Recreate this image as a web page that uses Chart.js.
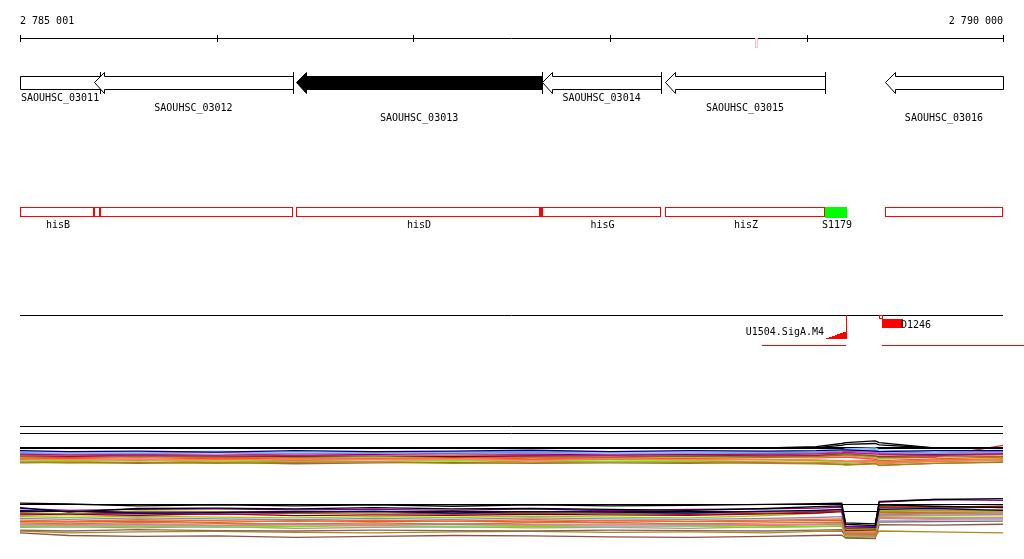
<!DOCTYPE html>
<html>
  <head>
    <title>Locus view</title>
    <script src="https://cdn.jsdelivr.net/npm/chart.js"></script>
    <style>
      body { margin: 0; background: #fff; }
    </style>
  </head>
  <body>
    <canvas id="locus" width="1024" height="559"></canvas>
    <script>
      // genomic window (bp)
      const viewStart = 2785001;
      const viewEnd = 2790000;
      const rulerTicks = [2785001, 2786001, 2787001, 2788001, 2789001, 2790000];
      const markerPos = 2788740;

      // genes, all on minus strand
      const geneNames = ['SAOUHSC_03011', 'SAOUHSC_03012', 'SAOUHSC_03013', 'SAOUHSC_03014', 'SAOUHSC_03015', 'SAOUHSC_03016'];
      const geneStart = [2784400, 2785377, 2786405, 2787656, 2788281, 2789400];
      const geneEnd = [2785408, 2786389, 2787656, 2788261, 2789095, 2790400];
      const selectedGene = 'SAOUHSC_03013';

      // operon / feature track
      const opNames = ['hisB', '', '', 'hisD', '', 'hisG', 'hisZ', 'S1179', ''];
      const opStart = [2784800, 2785377, 2785408, 2786405, 2787645, 2787656, 2788281, 2789095, 2789400];
      const opEnd = [2785377, 2785408, 2786389, 2787645, 2787656, 2788261, 2789095, 2789207, 2790000];
      const opColor = ['red', 'red', 'red', 'red', 'red', 'red', 'red', 'green', 'red'];

      // transcription start sites
      const tssNames = ['U1504.SigA.M4', 'D1246'];
      const tssPos = [2789202, 2789385];
      const tssStrand = [-1, 1];
      const tssPeakEnd = [2789100, 2789492];
      const tssTxEnd = [2788774, 2790200];

      // expression profiles, positions in bp
      const exprPos = [2785001, 2785250, 2785600, 2786000, 2786400, 2786800, 2787200, 2787600, 2788000, 2788400, 2788800, 2789050, 2789180, 2789200, 2789350, 2789370, 2789650, 2790000];

      // upper panel (log2 level)
      const upperGuides = [15.9, 14.3];
      const upperBase = 11;
      const upBlack1 = [11, 11, 11, 11, 11, 11, 11, 11, 11, 11, 11, 11.3, 12.0, 12.2, 12.6, 12.2, 11, 11];
      const upBlack2 = [11, 11, 11, 11, 11, 11, 11, 11, 11, 11, 11, 11.1, 11.6, 11.8, 12.0, 11.7, 11, 11];
      const upNavy = [10.4, 10.2, 10.3, 10.1, 10.4, 10.2, 10.3, 10.5, 10.2, 10.4, 10.3, 10.4, 10.6, 10.6, 10.3, 10.2, 10.4, 10.4];
      const upLightBlue = [10.2, 10.0, 10.1, 10.3, 10.0, 10.2, 10.1, 10.3, 10.0, 10.1, 10.2, 10.3, 10.6, 10.8, 11.0, 10.6, 10.1, 10.5];
      const upSteel = [10.0, 10.1, 9.9, 10.1, 9.9, 10.0, 10.1, 9.9, 10.1, 10.0, 9.9, 10.1, 10.4, 10.5, 10.6, 10.2, 9.9, 10.3];
      const upPlum = [9.9, 9.7, 9.8, 9.6, 9.9, 9.8, 9.6, 9.9, 9.7, 9.8, 9.9, 10.0, 10.3, 10.4, 10.2, 9.9, 9.8, 10.0];
      const upPurple = [9.8, 9.6, 9.7, 9.5, 9.8, 9.6, 9.9, 9.7, 9.5, 9.6, 9.8, 9.9, 10.2, 10.3, 10.1, 9.8, 9.6, 9.8];
      const upViolet = [9.6, 9.5, 9.4, 9.6, 9.3, 9.5, 9.6, 9.4, 9.5, 9.7, 9.5, 9.7, 9.9, 10.0, 9.7, 9.6, 9.4, 9.7];
      const upRosy = [9.5, 9.4, 9.6, 9.4, 9.5, 9.3, 9.5, 9.6, 9.4, 9.5, 9.6, 9.6, 9.9, 10.0, 9.5, 9.3, 9.6, 9.7];
      const upMaroon = [9.4, 9.2, 9.5, 9.3, 9.2, 9.4, 9.1, 9.3, 9.5, 9.3, 9.4, 9.4, 9.8, 9.9, 9.4, 9.2, 9.5, 9.6];
      const upOlive = [9.2, 9.3, 9.1, 9.4, 9.0, 9.2, 9.3, 9.1, 9.4, 9.2, 9.0, 9.2, 9.5, 9.6, 9.2, 8.9, 9.3, 9.1];
      const upRed = [9.1, 9.0, 9.2, 9.0, 9.1, 9.2, 9.0, 9.1, 9.0, 9.2, 9.1, 9.2, 9.5, 9.6, 9.2, 9.0, 9.0, 11.6];
      const upYellowGreen = [9.0, 9.1, 9.2, 8.9, 9.1, 8.9, 9.0, 9.2, 8.8, 9.0, 9.1, 9.1, 9.3, 9.4, 8.9, 8.6, 9.1, 9.2];
      const upPink = [8.9, 9.0, 8.8, 9.0, 8.9, 8.8, 9.0, 8.9, 8.8, 9.0, 8.9, 9.0, 9.2, 9.3, 8.8, 8.6, 9.0, 9.2];
      const upOrangeRed = [8.8, 8.7, 8.9, 8.6, 8.8, 8.7, 8.9, 8.6, 8.8, 8.7, 8.9, 8.8, 8.9, 9.0, 8.5, 8.2, 8.6, 9.0];
      const upCoral = [8.6, 8.4, 8.5, 8.3, 8.6, 8.4, 8.5, 8.3, 8.6, 8.4, 8.5, 8.3, 8.1, 8.0, 8.1, 7.7, 8.2, 8.4];
      const upChocolate = [8.5, 8.6, 8.4, 8.6, 8.3, 8.5, 8.6, 8.4, 8.5, 8.6, 8.4, 8.3, 8.2, 8.1, 8.2, 7.8, 8.3, 8.6];
      const upGreen = [8.3, 8.2, 8.4, 8.1, 8.3, 8.4, 8.2, 8.3, 8.1, 8.2, 8.4, 8.1, 7.9, 7.8, 8.2, 7.9, 8.3, 8.5];
      const upTan = [8.1, 8.0, 8.2, 7.9, 8.1, 8.0, 8.2, 7.9, 8.0, 8.1, 7.9, 7.8, 7.7, 7.6, 7.9, 7.5, 8.0, 8.2];
      const upGold = [7.9, 7.7, 7.8, 7.6, 7.8, 7.9, 7.6, 7.7, 7.9, 7.8, 7.6, 7.5, 7.3, 7.2, 7.5, 7.1, 7.6, 7.9];
      const upBrown = [7.7, 7.8, 7.6, 7.8, 7.5, 7.7, 7.8, 7.6, 7.7, 7.6, 7.8, 7.6, 7.4, 7.3, 7.6, 7.2, 7.6, 7.8];

      // lower panel (log2 level)
      const lowerGuides = [12, 10.44];
      const loBlack1 = [12.2, 12.0, 11.6, 11.8, 11.6, 11.8, 11.5, 11.8, 11.6, 11.7, 11.9, 12.1, 12.2, 7.5, 7.2, 12.4, 13.0, 13.2];
      const loBlack2 = [11.2, 10.2, 11.0, 11.1, 10.9, 11.2, 10.9, 11.0, 10.8, 10.6, 11.0, 11.4, 11.6, 7.8, 7.6, 11.8, 11.5, 11.2];
      const loPurple = [11.0, 10.6, 10.8, 10.9, 10.7, 10.8, 10.6, 10.9, 10.5, 10.8, 10.9, 11.1, 11.3, 7.0, 7.0, 12.6, 13.0, 12.8];
      const loNavy = [10.5, 10.4, 10.0, 10.1, 10.2, 10.4, 10.0, 10.3, 10.2, 10.0, 10.4, 10.6, 10.8, 6.9, 6.8, 10.8, 11.0, 10.6];
      const loOlive = [10.1, 9.8, 10.4, 10.3, 10.0, 10.2, 9.9, 10.1, 9.8, 10.0, 10.2, 10.5, 10.7, 6.4, 6.5, 11.6, 11.4, 11.2];
      const loCrimson = [9.9, 9.8, 10.0, 9.7, 9.9, 10.1, 9.8, 9.9, 10.0, 9.7, 9.9, 10.2, 10.4, 6.1, 6.2, 11.2, 11.1, 11.3];
      const loMaroon = [9.6, 9.7, 9.5, 9.8, 9.4, 9.6, 9.5, 9.7, 9.6, 9.5, 9.8, 10.0, 10.3, 6.6, 6.4, 11.4, 11.3, 11.5];
      const loYellowGreen = [9.2, 9.0, 9.3, 9.1, 8.9, 9.2, 9.0, 9.3, 9.1, 8.9, 9.4, 9.9, 10.4, 5.8, 5.9, 10.5, 10.3, 10.4];
      const loSlate = [8.8, 8.6, 8.9, 8.7, 8.5, 8.8, 8.6, 8.9, 8.7, 8.6, 8.8, 9.0, 9.2, 5.7, 5.8, 9.6, 9.8, 9.7];
      const loOrange = [8.4, 8.2, 8.5, 8.3, 8.1, 8.4, 8.2, 8.5, 8.3, 8.2, 8.4, 8.6, 8.7, 5.6, 5.5, 10.6, 10.5, 10.7];
      const loChocolate = [8.1, 8.0, 8.2, 7.9, 8.3, 8.1, 8.2, 8.0, 8.3, 8.1, 8.2, 8.3, 8.4, 5.4, 5.3, 10.2, 10.1, 10.3];
      const loSienna = [7.8, 7.6, 7.9, 7.7, 7.6, 7.8, 7.5, 7.8, 7.9, 7.6, 7.8, 7.9, 8.0, 5.2, 5.1, 9.8, 9.9, 10.0];
      const loTan = [7.5, 7.4, 7.6, 7.3, 7.6, 7.4, 7.5, 7.3, 7.6, 7.5, 7.4, 7.6, 7.7, 5.0, 5.0, 9.5, 9.4, 9.6];
      const loPink = [7.4, 7.3, 7.5, 7.2, 7.4, 7.3, 7.6, 7.4, 7.3, 7.5, 7.2, 7.4, 7.6, 5.5, 5.6, 9.0, 8.8, 8.9];
      const loLightBlue = [7.2, 7.1, 7.3, 7.0, 7.4, 7.2, 7.1, 7.3, 7.0, 7.2, 7.3, 7.4, 7.5, 5.3, 5.4, 8.3, 8.4, 8.5];
      const loGreen = [7.0, 6.9, 7.1, 6.8, 7.0, 7.2, 6.8, 7.0, 6.9, 7.1, 6.8, 7.0, 7.2, 4.8, 4.9, 9.2, 9.0, 9.1];
      const loRosy = [6.8, 6.9, 6.7, 7.0, 6.6, 6.8, 6.9, 6.7, 6.8, 6.6, 6.9, 7.0, 7.1, 5.1, 5.2, 8.8, 8.6, 8.7];
      const loBrown = [6.2, 6.0, 6.3, 6.1, 6.0, 6.2, 6.1, 6.0, 6.2, 6.1, 6.0, 6.2, 6.3, 4.6, 4.7, 8.0, 8.1, 8.2];
      const loGold = [6.0, 5.6, 5.8, 5.9, 5.7, 5.6, 5.8, 5.9, 5.7, 5.8, 5.6, 5.9, 6.0, 4.9, 4.8, 6.0, 5.8, 5.6];
      const loBrown2 = [5.6, 5.0, 4.8, 4.9, 4.6, 4.8, 5.0, 4.9, 4.7, 4.6, 4.8, 5.0, 5.1, 4.4, 4.3, 7.4, 7.3, 7.5];

      const upperSeries = [
        [upBlack1, '#000000'], [upBlack2, '#000000'], [upNavy, '#000080'], [upLightBlue, '#88ccff'],
        [upSteel, '#6699cc'], [upPlum, '#cc88cc'], [upPurple, '#800080'], [upViolet, '#c71585'],
        [upRosy, '#cc9999'], [upMaroon, '#800000'], [upOlive, '#808000'], [upRed, '#cc3333'],
        [upYellowGreen, '#99cc33'], [upPink, '#ff6699'], [upOrangeRed, '#ff5030'], [upCoral, '#ff7f50'],
        [upChocolate, '#d2691e'], [upGreen, '#66ff00'], [upTan, '#cc8855'], [upGold, '#aa8800'], [upBrown, '#996655']
      ];
      const lowerSeries = [
        [loBlack1, '#000000'], [loBlack2, '#000000'], [loPurple, '#880088'], [loNavy, '#000066'],
        [loOlive, '#808000'], [loCrimson, '#cc0044'], [loMaroon, '#800000'], [loYellowGreen, '#99cc00'],
        [loSlate, '#8888bb'], [loOrange, '#ff6633'], [loChocolate, '#d2691e'], [loSienna, '#cc7744'],
        [loTan, '#cc9966'], [loPink, '#ff6699'], [loLightBlue, '#88bbee'], [loGreen, '#66ee00'],
        [loRosy, '#cc8888'], [loBrown, '#886655'], [loGold, '#aa8822'], [loBrown2, '#885544']
      ];

      // px per bp so the window lands at 20..1003
      const k = 983 / (viewEnd - viewStart);
      const xMin = viewStart - 20 / k;
      const xMax = xMin + 1024 / k;

      const datasets = [];
      upperSeries.forEach(([vals, col]) => datasets.push({
        data: vals.map((v, i) => ({ x: exprPos[i], y: v })),
        yAxisID: 'yUp', borderColor: col, borderWidth: 1.3, pointRadius: 0, tension: 0
      }));
      lowerSeries.forEach(([vals, col]) => datasets.push({
        data: vals.map((v, i) => ({ x: exprPos[i], y: v })),
        yAxisID: 'yLo', borderColor: col, borderWidth: 1.3, pointRadius: 0, tension: 0
      }));

      const FONT = '10px "DejaVu Sans Mono"';

      const tracks = {
        id: 'tracks',
        beforeDatasetsDraw(chart) {
          const ctx = chart.ctx;
          const x = chart.scales.x, yUp = chart.scales.yUp, yLo = chart.scales.yLo;
          const x0 = x.getPixelForValue(viewStart), x1 = x.getPixelForValue(viewEnd);
          ctx.save();
          ctx.strokeStyle = '#000';
          ctx.lineWidth = 1;
          upperGuides.forEach(v => {
            const y = Math.round(yUp.getPixelForValue(v)) + 0.5;
            ctx.beginPath(); ctx.moveTo(x0, y); ctx.lineTo(x1, y); ctx.stroke();
          });
          lowerGuides.forEach(v => {
            const y = Math.round(yLo.getPixelForValue(v)) + 0.5;
            ctx.beginPath(); ctx.moveTo(x0, y); ctx.lineTo(x1, y); ctx.stroke();
          });
          ctx.lineWidth = 2;
          const yb = Math.round(yUp.getPixelForValue(upperBase));
          ctx.beginPath(); ctx.moveTo(x0, yb); ctx.lineTo(x1, yb); ctx.stroke();
          ctx.restore();
        },
        afterDraw(chart) {
          const ctx = chart.ctx;
          const x = chart.scales.x;
          const px = v => x.getPixelForValue(v);
          const L = px(viewStart), R = px(viewEnd);
          const clampX = v => Math.min(Math.max(px(v), L), R);
          ctx.save();
          ctx.font = FONT;
          ctx.fillStyle = '#000';
          ctx.strokeStyle = '#000';
          ctx.lineWidth = 1;

          // ruler
          ctx.textAlign = 'left';
          ctx.fillText('2 785 001', L, 24);
          ctx.textAlign = 'right';
          ctx.fillText('2 790 000', R, 24);
          ctx.beginPath();
          ctx.moveTo(L, 38.5); ctx.lineTo(R, 38.5);
          rulerTicks.forEach(t => {
            const tx = Math.round(px(t)) + 0.5;
            ctx.moveTo(tx, 35); ctx.lineTo(tx, 42);
          });
          ctx.stroke();
          ctx.strokeStyle = '#ffbbbb';
          const mx = Math.round(px(markerPos)) + 0.5;
          ctx.strokeRect(mx, 38.5, 2, 9);

          // genes (minus strand arrows)
          const headLen = 10;
          geneNames.forEach((name, i) => {
            const tip = px(geneStart[i]), end = px(geneEnd[i]);
            const a = Math.max(tip, L), b = Math.min(end, R);
            ctx.fillStyle = name === selectedGene ? '#000' : '#fff';
            ctx.strokeStyle = '#000';
            ctx.beginPath();
            if (tip >= L) {
              const hb = Math.round(tip + headLen) + 0.5;
              const t = Math.round(tip) + 0.5;
              ctx.moveTo(t, 82.5);
              ctx.lineTo(hb, 72.5);
              ctx.lineTo(hb, 76.5);
              ctx.lineTo(Math.round(b) + 0.5, 76.5);
              ctx.lineTo(Math.round(b) + 0.5, 89.5);
              ctx.lineTo(hb, 89.5);
              ctx.lineTo(hb, 93.5);
              ctx.closePath();
            } else {
              ctx.rect(Math.round(a) + 0.5, 76.5, Math.round(b) - Math.round(a), 13);
            }
            ctx.fill();
            ctx.stroke();
            if (end <= R) {
              const e = Math.round(end) + 0.5;
              ctx.beginPath(); ctx.moveTo(e, 72); ctx.lineTo(e, 94); ctx.stroke();
            }
            ctx.fillStyle = '#000';
            ctx.textAlign = 'center';
            ctx.fillText(name, (a + b) / 2, [101, 111, 121][i % 3]);
          });

          // operon track
          opNames.forEach((name, i) => {
            const a = Math.round(clampX(opStart[i])), b = Math.round(clampX(opEnd[i]));
            if (opColor[i] === 'green') {
              ctx.fillStyle = '#00ff00';
              ctx.fillRect(a, 207, b - a, 11);
            } else {
              ctx.strokeStyle = '#ff0000';
              ctx.strokeRect(a + 0.5, 207.5, b - a - 1, 9);
            }
            if (name) {
              ctx.fillStyle = '#000';
              ctx.textAlign = 'center';
              ctx.fillText(name, (a + b) / 2 + 1, 228);
            }
          });

          // TSS track
          ctx.strokeStyle = '#000';
          ctx.beginPath(); ctx.moveTo(L, 315.5); ctx.lineTo(R, 315.5); ctx.stroke();
          ctx.strokeStyle = '#ff0000';
          tssNames.forEach((name, i) => {
            const s = Math.round(px(tssPos[i]));
            const pe = Math.round(px(tssPeakEnd[i]));
            const te = px(tssTxEnd[i]);
            ctx.beginPath();
            ctx.moveTo(s, 345.5); ctx.lineTo(Math.min(Math.max(te, 0), 1024), 345.5);
            ctx.stroke();
            ctx.fillStyle = '#ff0000';
            if (tssStrand[i] < 0) {
              ctx.beginPath(); ctx.moveTo(s + 0.5, 315); ctx.lineTo(s + 0.5, 339); ctx.stroke();
              // stepped ramp
              const left = s - 20;
              const steps = 7;
              for (let j = 0; j < steps; j++) {
                const sx = left + j * 20 / steps;
                const h = Math.round((j + 1) * 7 / steps);
                ctx.fillRect(Math.round(sx), 339 - h, Math.ceil(20 / steps) + 1, h);
              }
              ctx.fillStyle = '#000';
              ctx.textAlign = 'right';
              ctx.fillText(name, left - 2, 335);
            } else {
              ctx.strokeRect(s - 2.5, 315.5, 3, 3);
              ctx.fillRect(s, 319, pe - s, 9);
              ctx.fillStyle = '#000';
              ctx.textAlign = 'left';
              ctx.fillText(name, s + 19, 328);
            }
          });
          ctx.restore();
        }
      };

      new Chart(document.getElementById('locus'), {
        type: 'line',
        data: { datasets },
        options: {
          responsive: false,
          animation: false,
          devicePixelRatio: 1,
          layout: { padding: 0 },
          plugins: { legend: { display: false }, tooltip: { enabled: false } },
          scales: {
            x: { type: 'linear', min: xMin, max: xMax, display: false },
            yUp: { type: 'linear', min: 11 - 111 / 4.5, max: 11 + 448 / 4.5, display: false },
            yLo: { type: 'linear', min: 12 - 55 / 4.5, max: 12 + 504 / 4.5, display: false }
          }
        },
        plugins: [tracks]
      });
    </script>
  </body>
</html>
